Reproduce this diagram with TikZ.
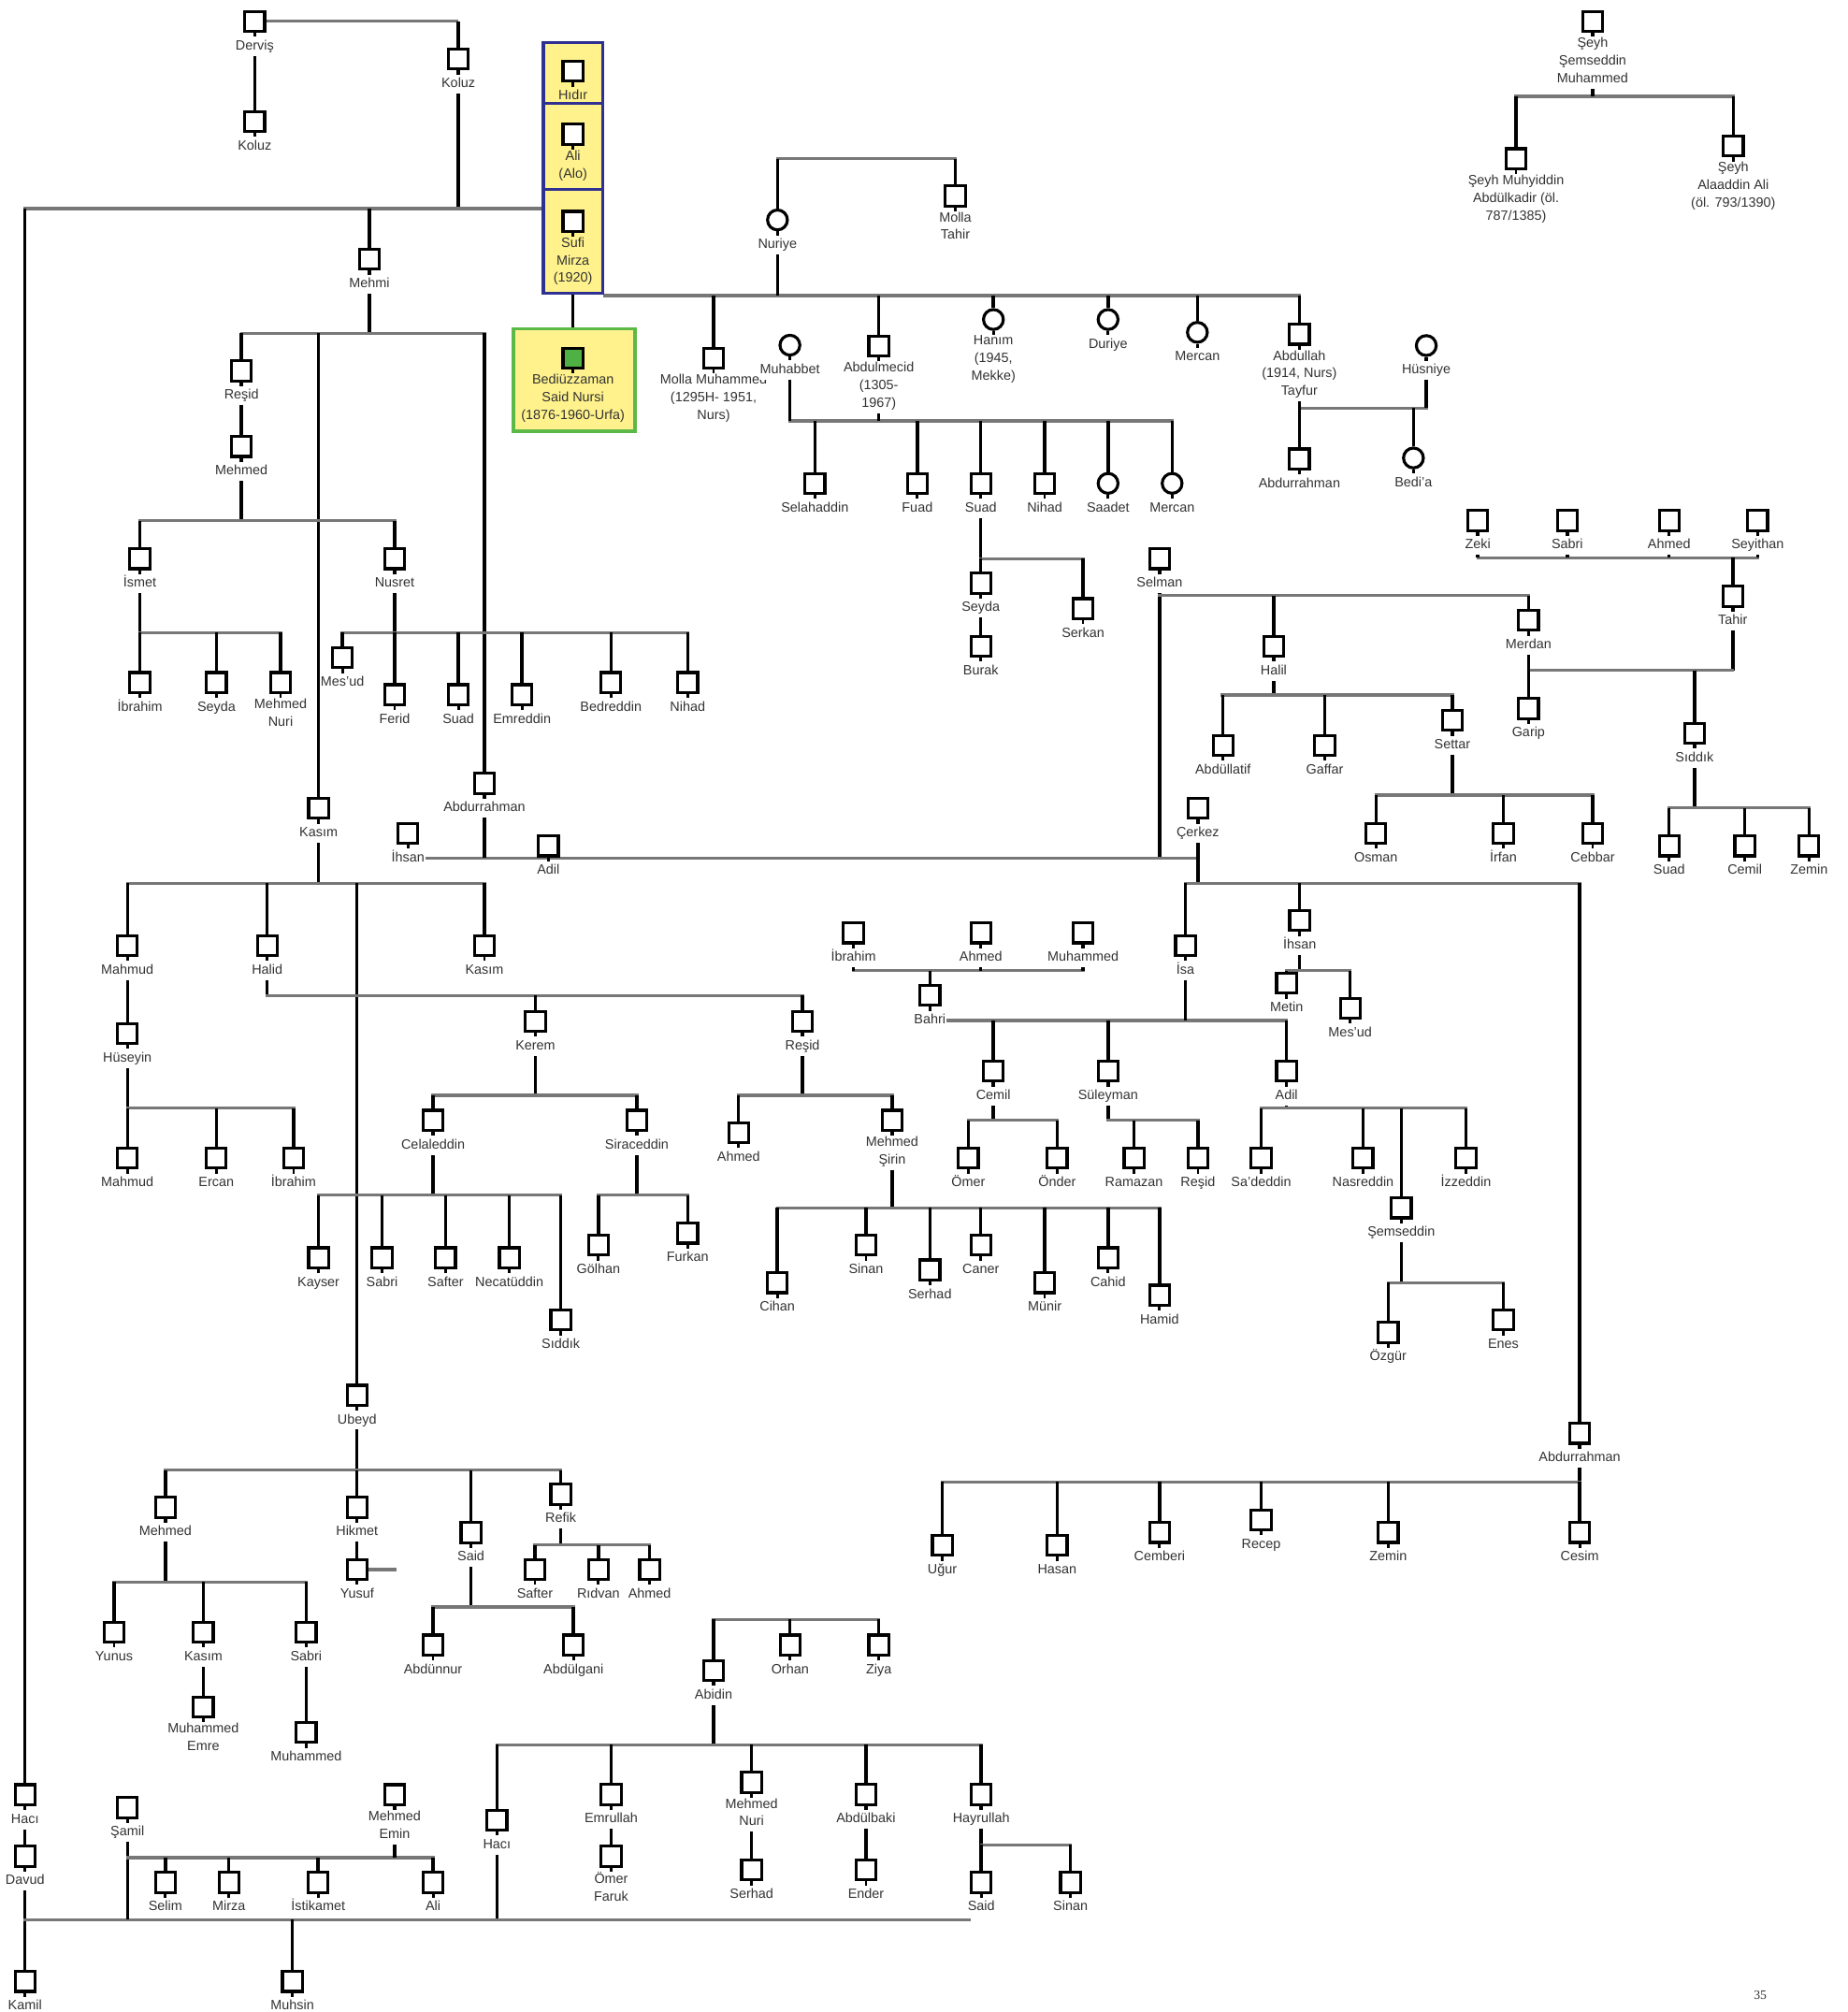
\documentclass[tikz,border=0pt]{standalone}
\usepackage{fontspec}
\setmainfont{Liberation Sans}
\newfontfamily\pagenumfont{Liberation Serif}
\pgfdeclarelayer{bg}
\pgfsetlayers{bg,main}
\definecolor{hgray}{HTML}{777777}
\definecolor{yel}{HTML}{FFF28C}
\definecolor{navyb}{HTML}{2E3192}
\definecolor{grnb}{HTML}{5CB947}
\definecolor{grnfill}{HTML}{4FB043}
\definecolor{txt}{HTML}{333333}
\tikzset{
 mbox/.style={rectangle, draw=black, line width=2.3pt, fill=white, minimum size=15.5pt, inner sep=0pt},
 fcirc/.style={circle, draw=black, line width=2.3pt, fill=white, minimum size=15.5pt, inner sep=0pt},
 lab/.style={anchor=north, fill=white, inner sep=0.6pt, align=center, text=txt,
   font=\fontsize{10.5}{13.7}\selectfont, execute at begin node=\strut},
 labin/.style={lab, fill=none},
 stub/.style={line width=2pt, draw=black},
 vl/.style={draw=black, line width=2.5pt},
 hl/.style={draw=hgray, line width=2.4pt, line cap=rect},
 ybox/.style={rectangle, draw=navyb, line width=2.6pt, fill=yel, inner sep=0pt},
 gbox/.style={rectangle, draw=grnb, line width=2.6pt, fill=yel, inner sep=0pt},
}
\newcommand\PersM[4]{\node[mbox] (#1) at (#2,#3) {};\draw[stub] (#1.south) -- ++(0,3.2);\node[lab] (#1-l) at ([yshift=-11.8pt]#1.center) {#4};}
\newcommand\PersF[4]{\node[fcirc] (#1) at (#2,#3) {};\draw[stub] (#1.south) -- ++(0,3.2);\node[lab] (#1-l) at ([yshift=-11.8pt]#1.center) {#4};}
\newcommand\PersY[4]{\node[mbox] (#1) at (#2,#3) {};\draw[stub] (#1.south) -- ++(0,3.2);\node[labin] (#1-l) at ([yshift=-11.8pt]#1.center) {#4};}
\newcommand\Dn[2]{\draw[vl] (#1.north) -- (#1.north |- 0,#2);}
\newcommand\Up[2]{\draw[vl] (#1.south) -- (#1.south |- 0,#2);}
\newcommand\Bus[3]{\draw[hl] (#1,#3) -- (#2,#3);}
\begin{document}
\begin{tikzpicture}[x=1pt,y=-1pt]
\useasboundingbox (0,0) rectangle (1440,1568);
\begin{pgfonlayer}{bg}\fill[white] (0,0) rectangle (1440,1568);\end{pgfonlayer}

% ---- top left
\PersM{dervis}{198.5}{16.6}{Derviş}
\PersM{koluzA}{198.5}{94.7}{Koluz}
\PersM{koluzB}{357.3}{46}{Koluz}
\PersM{mehmi}{288}{202}{Mehmi}
% ---- yellow column
\node[ybox, minimum width=46.4pt, minimum height=47.5pt] (hidirR) at (446.6,56.85) {};
\node[ybox, minimum width=46.4pt, minimum height=67.1pt] (aliR) at (446.6,114.15) {};
\node[ybox, minimum width=46.4pt, minimum height=80.8pt] (sufiR) at (446.6,188.1) {};
\node[gbox, minimum width=94.8pt, minimum height=79.9pt] (bediR) at (447.7,296.25) {};
\PersY{hidir}{446.6}{55.4}{Hıdır}
\PersY{ali}{446.6}{104.6}{Ali\\(Alo)}
\PersY{sufi}{446.6}{172.5}{Sufi\\Mirza\\(1920)}
\node[mbox, fill=grnfill] (bediuz) at (446.6,279) {};
\draw[stub] (bediuz.south) -- ++(0,3.2);
\node[labin] (bediuz-l) at ([yshift=-11.8pt]bediuz.center) {Bediüzzaman\\Said Nursi\\(1876-1960-Urfa)};
% ---- Nuriye family
\PersF{nuriye}{606}{171.4}{Nuriye}
\PersM{mtahir}{744.6}{152.7}{Molla\\Tahir}
\PersM{mmuh}{556.2}{279}{Molla Muhammed\\(1295H- 1951,\\Nurs)}
\PersF{muhabbet}{615.7}{269}{Muhabbet}
\PersM{abdulmecid}{685}{269.6}{Abdulmecid\\(1305-\\1967)}
\PersF{hanim}{774.3}{249}{Hanım\\(1945,\\Mekke)}
\PersF{duriye}{863.7}{249}{Duriye}
\PersF{mercanA}{933.3}{259}{Mercan}
\PersM{abdullah}{1012.8}{260.5}{Abdullah\\(1914, Nurs)\\Tayfur}
\PersF{husniye}{1111.7}{269.3}{Hüsniye}
\PersM{abdurrahmanA}{1012.8}{357.7}{Abdurrahman}
\PersF{bedia}{1101.7}{356.9}{Bedi'a}
\PersM{selahaddin}{635.2}{376.7}{Selahaddin}
\PersM{fuad}{715}{376.7}{Fuad}
\PersM{suadA}{764.5}{376.7}{Suad}
\PersM{nihadA}{814.3}{376.7}{Nihad}
\PersF{saadet}{863.7}{376.7}{Saadet}
\PersF{mercanB}{913.6}{376.7}{Mercan}
\PersM{seydaA}{764.5}{454.5}{Seyda}
\PersM{serkan}{844.2}{474.3}{Serkan}
\PersM{burak}{764.5}{503.6}{Burak}
% ---- Şeyh
\PersM{seyhS}{1241.4}{16.6}{Şeyh\\Şemseddin\\Muhammed}
\PersM{seyhM}{1181.7}{123.7}{Şeyh Muhyiddin\\Abdülkadir (öl.\\787/1385)}
\PersM{seyhA}{1351}{113.8}{Şeyh\\Alaaddin Ali\\(öl. 793/1390)}
% ---- right side
\PersM{zeki}{1151.9}{405.7}{Zeki}
\PersM{sabriA}{1221.6}{405.7}{Sabri}
\PersM{ahmedA}{1301}{405.7}{Ahmed}
\PersM{seyithan}{1370}{405.7}{Seyithan}
\PersM{tahir}{1350.6}{464.7}{Tahir}
\PersM{selman}{903.8}{435.4}{Selman}
\PersM{merdan}{1191.4}{483.4}{Merdan}
\PersM{halil}{992.8}{503.6}{Halil}
\PersM{garip}{1191.4}{552.2}{Garip}
\PersM{siddikA}{1320.8}{571.3}{Sıddık}
\PersM{abdullatif}{953.3}{580.8}{Abdüllatif}
\PersM{gaffar}{1032.6}{580.8}{Gaffar}
\PersM{settar}{1132}{561.4}{Settar}
\PersM{osman}{1072.5}{649.4}{Osman}
\PersM{irfan}{1171.8}{649.4}{İrfan}
\PersM{cebbar}{1241.4}{649.4}{Cebbar}
\PersM{suadB}{1301}{659.3}{Suad}
\PersM{cemilB}{1360}{659.3}{Cemil}
\PersM{zeminA}{1410}{659.3}{Zemin}
\PersM{cerkez}{933.7}{630}{Çerkez}
\PersM{isa}{924}{737}{İsa}
\PersM{ihsanB}{1013}{717.5}{İhsan}
\PersM{metin}{1002.8}{766.3}{Metin}
\PersM{mesudB}{1052.4}{785.8}{Mes'ud}
\PersM{ibrahimB}{665.2}{727}{İbrahim}
\PersM{ahmedB}{764.5}{727}{Ahmed}
\PersM{muhammedB}{844.2}{727}{Muhammed}
\PersM{bahri}{724.8}{775.8}{Bahri}
\PersM{cemilA}{774.3}{834.8}{Cemil}
\PersM{suleyman}{863.7}{834.8}{Süleyman}
\PersM{adilB}{1002.8}{834.8}{Adil}
\PersM{omer}{754.7}{902.5}{Ömer}
\PersM{onder}{824}{902.5}{Önder}
\PersM{ramazan}{883.9}{902.5}{Ramazan}
\PersM{residC}{933.7}{902.5}{Reşid}
\PersM{sadeddin}{983}{902.5}{Sa'deddin}
\PersM{nasreddin}{1062.4}{902.5}{Nasreddin}
\PersM{izzeddin}{1142.6}{902.5}{İzzeddin}
\PersM{semseddin}{1092.2}{941.3}{Şemseddin}
\PersM{ozgur}{1082}{1038.4}{Özgür}
\PersM{enes}{1171.8}{1028.6}{Enes}
\PersM{abdurrahmanC}{1231.3}{1117}{Abdurrahman}
\PersM{ugur}{734.5}{1204.3}{Uğur}
\PersM{hasan}{824}{1204.3}{Hasan}
\PersM{cemberi}{903.8}{1194.3}{Cemberi}
\PersM{recep}{983}{1184.5}{Recep}
\PersM{zeminB}{1082}{1194.3}{Zemin}
\PersM{cesim}{1231.3}{1194.3}{Cesim}
% ---- Mehmi side
\PersM{residA}{188.2}{289}{Reşid}
\PersM{mehmedA}{188.2}{348}{Mehmed}
\PersM{ismet}{109}{435.4}{İsmet}
\PersM{nusret}{307.6}{435.4}{Nusret}
\PersM{ibrahimA}{109}{531.9}{İbrahim}
\PersM{seydaB}{168.7}{531.9}{Seyda}
\PersM{mnuriA}{218.7}{531.9}{Mehmed\\Nuri}
\PersM{mesudA}{266.9}{512.5}{Mes'ud}
\PersM{ferid}{307.6}{541.4}{Ferid}
\PersM{suadC}{357.3}{541.4}{Suad}
\PersM{emreddin}{406.9}{541.4}{Emreddin}
\PersM{bedreddin}{476.2}{531.9}{Bedreddin}
\PersM{nihadB}{536}{531.9}{Nihad}
\PersM{kasimA}{248.3}{630}{Kasım}
\PersM{abdurrahmanB}{377.6}{610.5}{Abdurrahman}
\PersM{ihsanA}{318}{649.4}{İhsan}
\PersM{adilA}{427.4}{659.3}{Adil}
\PersM{mahmudA}{99.3}{737}{Mahmud}
\PersM{halid}{208.3}{737}{Halid}
\PersM{kasimB}{377.6}{737}{Kasım}
\PersM{huseyin}{99.3}{805.3}{Hüseyin}
\PersM{mahmudB}{99.3}{902.5}{Mahmud}
\PersM{ercan}{168.6}{902.5}{Ercan}
\PersM{ibrahimC}{228.8}{902.5}{İbrahim}
\PersM{kerem}{417.3}{796}{Kerem}
\PersM{residB}{625.5}{796}{Reşid}
\PersM{celaleddin}{337.6}{873}{Celaleddin}
\PersM{siraceddin}{496.4}{873}{Siraceddin}
\PersM{kayser}{248.3}{980.2}{Kayser}
\PersM{sabriB}{297.8}{980.2}{Sabri}
\PersM{safterA}{347.3}{980.2}{Safter}
\PersM{necatuddin}{397}{980.2}{Necatüddin}
\PersM{siddikB}{437.1}{1028.6}{Sıddık}
\PersM{golhan}{466.4}{970.3}{Gölhan}
\PersM{furkan}{536}{961}{Furkan}
\PersM{ahmedC}{575.7}{882.6}{Ahmed}
\PersM{mshirin}{695.4}{873}{Mehmed\\Şirin}
\PersM{cihan}{605.9}{999.7}{Cihan}
\PersM{sinanA}{675}{970.3}{Sinan}
\PersM{serhadA}{724.8}{989.7}{Serhad}
\PersM{caner}{764.5}{970.3}{Caner}
\PersM{munir}{814.3}{999.7}{Münir}
\PersM{cahid}{863.7}{980.2}{Cahid}
\PersM{hamid}{903.8}{1009.3}{Hamid}
\PersM{ubeyd}{278.3}{1087.3}{Ubeyd}
\PersM{mehmedB}{128.9}{1174.7}{Mehmed}
\PersM{hikmet}{278.3}{1174.7}{Hikmet}
\PersM{saidA}{367.1}{1194.4}{Said}
\PersM{refik}{437.1}{1164.5}{Refik}
\PersM{yusuf}{278.3}{1223.2}{Yusuf}
\PersM{yunus}{88.9}{1272}{Yunus}
\PersM{kasimC}{158.5}{1272}{Kasım}
\PersM{sabriC}{238.6}{1272}{Sabri}
\PersM{memre}{158.5}{1330.3}{Muhammed\\Emre}
\PersM{muhammedC}{238.6}{1350.2}{Muhammed}
\PersM{abdunnur}{337.5}{1282}{Abdünnur}
\PersM{abdulgani}{447}{1282}{Abdülgani}
\PersM{safterB}{417}{1223.2}{Safter}
\PersM{ridvan}{466.4}{1223.2}{Rıdvan}
\PersM{ahmedD}{506.4}{1223.2}{Ahmed}
\PersM{abidin}{556.2}{1301.8}{Abidin}
\PersM{orhan}{615.8}{1282}{Orhan}
\PersM{ziya}{685}{1282}{Ziya}
\PersM{haciB}{387.3}{1418.5}{Hacı}
\PersM{emrullah}{476.4}{1398.5}{Emrullah}
\PersM{mnuriB}{585.8}{1389}{Mehmed\\Nuri}
\PersM{abdulbaki}{675}{1398.5}{Abdülbaki}
\PersM{hayrullah}{764.8}{1398.5}{Hayrullah}
\PersM{omerF}{476.4}{1446.6}{Ömer\\Faruk}
\PersM{serhadB}{585.8}{1457.3}{Serhad}
\PersM{ender}{675}{1457.3}{Ender}
\PersM{saidB}{764.8}{1467}{Said}
\PersM{sinanB}{834.4}{1467}{Sinan}
\PersM{haciA}{19.5}{1398.6}{Hacı}
\PersM{davud}{19.5}{1446.6}{Davud}
\PersM{kamil}{19.5}{1544.2}{Kamil}
\PersM{samil}{99.3}{1408.7}{Şamil}
\PersM{memin}{307.6}{1398.6}{Mehmed\\Emin}
\PersM{selim}{128.9}{1467}{Selim}
\PersM{mirza}{178.4}{1467}{Mirza}
\PersM{istikamet}{248}{1467}{İstikamet}
\PersM{aliB}{337.6}{1467}{Ali}
\PersM{muhsin}{227.9}{1544.2}{Muhsin}
\node[font=\pagenumfont\fontsize{10}{12}\selectfont, text=black!80] (pnum) at (1372,1555) {35};

% ================= connectors =================
\begin{pgfonlayer}{bg}
\draw[hl, line cap=butt] (dervis.east) -- (dervis.east -| koluzB.north);
\draw[vl] (dervis.east -| koluzB.north) -- (koluzB.north);
\draw[vl] (dervis.south) -- (koluzA.north);
\Up{koluzB}{162.6}
\draw[hl] (19.5,162.6) -- (sufiR.west |- 0,162.6);
\Dn{haciA}{162.6}
\Dn{mehmi}{162.6}
\draw[vl] (sufiR.south) -- (sufiR.south |- bediR.north);
\draw[hl] (sufiR.east |- 0,230.4) -- (1012.8,230.4);
% Nuriye
\Bus{606}{744.6}{123.7}
\Dn{nuriye}{123.7}
\Dn{mtahir}{123.7}
\Up{nuriye}{230.4}
\Dn{mmuh}{230.4}
\Dn{abdulmecid}{230.4}
\Dn{hanim}{230.4}
\Dn{duriye}{230.4}
\Dn{mercanA}{230.4}
\Dn{abdullah}{230.4}
\Bus{615.7}{913.6}{328}
\Up{muhabbet}{328}
\Up{abdulmecid}{328}
\Dn{selahaddin}{328}
\Dn{fuad}{328}
\Dn{suadA}{328}
\Dn{nihadA}{328}
\Dn{saadet}{328}
\Dn{mercanB}{328}
\Up{suadA}{435.5}
\Bus{764.5}{844.2}{435.5}
\Dn{seydaA}{435.5}
\Dn{serkan}{435.5}
\draw[vl] (seydaA.south) -- (burak.north);
\Bus{1012.8}{1111.7}{318}
\Up{husniye}{318}
\draw[vl] (abdullah.south) -- (abdurrahmanA.north);
\Dn{bedia}{318}
% Şeyh
\Bus{1181.7}{1351}{75}
\Up{seyhS}{75}
\Dn{seyhM}{75}
\Dn{seyhA}{75}
% Zeki / Tahir
\Bus{1151.9}{1370}{434.7}
\Up{zeki}{434.7}
\Up{sabriA}{434.7}
\Up{ahmedA}{434.7}
\Up{seyithan}{434.7}
\Dn{tahir}{434.7}
\Up{tahir}{522.3}
\Bus{1191.4}{1350.6}{522.3}
\draw[vl] (merdan.south) -- (garip.north);
\Dn{siddikA}{522.3}
\Up{siddikA}{629.6}
\Bus{1301}{1410}{629.6}
\Dn{suadB}{629.6}
\Dn{cemilB}{629.6}
\Dn{zeminA}{629.6}
% Selman
\Up{selman}{668.7}
\Bus{903.8}{1191.4}{464}
\Dn{halil}{464}
\Dn{merdan}{464}
\Up{halil}{541.6}
\Bus{952.6}{1132}{541.6}
\Dn{abdullatif}{541.6}
\Dn{gaffar}{541.6}
\Dn{settar}{541.6}
\Up{settar}{619.7}
\Bus{1072.5}{1241.4}{619.7}
\Dn{osman}{619.7}
\Dn{irfan}{619.7}
\Dn{cebbar}{619.7}
% Çerkez line
\draw[hl] (ihsanA.center |- 0,668.7) -- (933.7,668.7);
\Up{abdurrahmanB}{668.7}
\Up{cerkez}{688.3}
\Bus{924}{1231.3}{688.3}
\Dn{isa}{688.3}
\Dn{ihsanB}{688.3}
\Dn{abdurrahmanC}{688.3}
\Up{ihsanB}{756.5}
\Bus{1002.8}{1052.4}{756.5}
\Dn{metin}{756.5}
\Dn{mesudB}{756.5}
\Bus{665.2}{844.2}{756.5}
\Up{ibrahimB}{756.5}
\Up{ahmedB}{756.5}
\Up{muhammedB}{756.5}
\Dn{bahri}{756.5}
\draw[hl] (bahri.center |- 0,795.3) -- (1002.8,795.3);
\Up{isa}{795.3}
\Dn{cemilA}{795.3}
\Dn{suleyman}{795.3}
\Dn{adilB}{795.3}
\Up{cemilA}{873}
\Bus{754.7}{824}{873}
\Dn{omer}{873}
\Dn{onder}{873}
\Up{suleyman}{873}
\Bus{863.7}{933.7}{873}
\Dn{ramazan}{873}
\Dn{residC}{873}
\Up{adilB}{863.5}
\Bus{983}{1142.6}{863.5}
\Dn{sadeddin}{863.5}
\Dn{nasreddin}{863.5}
\Dn{semseddin}{863.5}
\Dn{izzeddin}{863.5}
\Up{semseddin}{999.7}
\Bus{1082}{1171.8}{999.7}
\Dn{ozgur}{999.7}
\Dn{enes}{999.7}
\Up{abdurrahmanC}{1155}
\Bus{734.5}{1231.3}{1155}
\Dn{ugur}{1155}
\Dn{hasan}{1155}
\Dn{cemberi}{1155}
\Dn{recep}{1155}
\Dn{zeminB}{1155}
\Dn{cesim}{1155}
% Mehmi
\Up{mehmi}{259.7}
\Bus{188.2}{377.6}{259.7}
\Dn{residA}{259.7}
\Dn{kasimA}{259.7}
\Dn{abdurrahmanB}{259.7}
\draw[vl] (residA.south) -- (mehmedA.north);
\Up{mehmedA}{405.7}
\Bus{109}{307.6}{405.7}
\Dn{ismet}{405.7}
\Dn{nusret}{405.7}
\Up{ismet}{493}
\Bus{109}{218.7}{493}
\Dn{ibrahimA}{493}
\Dn{seydaB}{493}
\Dn{mnuriA}{493}
\Up{nusret}{493}
\Bus{266.9}{536}{493}
\Dn{mesudA}{493}
\Dn{ferid}{493}
\Dn{suadC}{493}
\Dn{emreddin}{493}
\Dn{bedreddin}{493}
\Dn{nihadB}{493}
\Up{kasimA}{688.3}
\Bus{99.3}{377.6}{688.3}
\Dn{mahmudA}{688.3}
\Dn{halid}{688.3}
\Dn{kasimB}{688.3}
\Dn{ubeyd}{688.3}
\draw[vl] (mahmudA.south) -- (huseyin.north);
\Up{huseyin}{863.5}
\Bus{99.3}{228.8}{863.5}
\Dn{mahmudB}{863.5}
\Dn{ercan}{863.5}
\Dn{ibrahimC}{863.5}
\Up{halid}{775.8}
\Bus{208.3}{625.5}{775.8}
\Dn{kerem}{775.8}
\Dn{residB}{775.8}
\Up{kerem}{853.7}
\Bus{337.6}{496.4}{853.7}
\Dn{celaleddin}{853.7}
\Dn{siraceddin}{853.7}
\Up{celaleddin}{931.4}
\Bus{248.3}{437.1}{931.4}
\Dn{kayser}{931.4}
\Dn{sabriB}{931.4}
\Dn{safterA}{931.4}
\Dn{necatuddin}{931.4}
\Dn{siddikB}{931.4}
\Up{siraceddin}{931.4}
\Bus{466.4}{536}{931.4}
\Dn{golhan}{931.4}
\Dn{furkan}{931.4}
\Up{residB}{853.7}
\Bus{575.7}{695.4}{853.7}
\Dn{ahmedC}{853.7}
\Dn{mshirin}{853.7}
\Up{mshirin}{941.3}
\Bus{605.9}{903.8}{941.3}
\Dn{cihan}{941.3}
\Dn{sinanA}{941.3}
\Dn{serhadA}{941.3}
\Dn{caner}{941.3}
\Dn{munir}{941.3}
\Dn{cahid}{941.3}
\Dn{hamid}{941.3}
% Ubeyd
\Up{ubeyd}{1145.8}
\Bus{128.9}{437.1}{1145.8}
\Dn{mehmedB}{1145.8}
\Dn{hikmet}{1145.8}
\Dn{saidA}{1145.8}
\Dn{refik}{1145.8}
\draw[vl] (hikmet.south) -- (yusuf.north);
\draw[hl, line cap=butt] (yusuf.east) -- ++(22,0);
\Up{mehmedB}{1232.8}
\Bus{88.9}{238.6}{1232.8}
\Dn{yunus}{1232.8}
\Dn{kasimC}{1232.8}
\Dn{sabriC}{1232.8}
\draw[vl] (kasimC.south) -- (memre.north);
\draw[vl] (sabriC.south) -- (muhammedC.north);
\Up{saidA}{1252.3}
\Bus{337.5}{447}{1252.3}
\Dn{abdunnur}{1252.3}
\Dn{abdulgani}{1252.3}
\Up{refik}{1204}
\Bus{417}{506.4}{1204}
\Dn{safterB}{1204}
\Dn{ridvan}{1204}
\Dn{ahmedD}{1204}
% Abidin
\Bus{556.2}{685}{1262}
\Dn{abidin}{1262}
\Dn{orhan}{1262}
\Dn{ziya}{1262}
\Up{abidin}{1359.7}
\Bus{387.3}{764.8}{1359.7}
\Dn{haciB}{1359.7}
\Dn{emrullah}{1359.7}
\Dn{mnuriB}{1359.7}
\Dn{abdulbaki}{1359.7}
\Dn{hayrullah}{1359.7}
\draw[vl] (emrullah.south) -- (omerF.north);
\draw[vl] (mnuriB.south) -- (serhadB.north);
\draw[vl] (abdulbaki.south) -- (ender.north);
\Up{hayrullah}{1437.7}
\Bus{764.8}{834.4}{1437.7}
\Dn{saidB}{1437.7}
\Dn{sinanB}{1437.7}
\Up{haciB}{1496}
% bottom left
\draw[vl] (haciA.south) -- (davud.north);
\draw[vl] (davud.south) -- (kamil.north);
\Bus{19.5}{755.5}{1496}
\Up{samil}{1496}
\Bus{99.3}{337.6}{1447.6}
\Up{memin}{1447.6}
\Dn{selim}{1447.6}
\Dn{mirza}{1447.6}
\Dn{istikamet}{1447.6}
\Dn{aliB}{1447.6}
\Dn{muhsin}{1496}
\end{pgfonlayer}
\end{tikzpicture}
\end{document}
